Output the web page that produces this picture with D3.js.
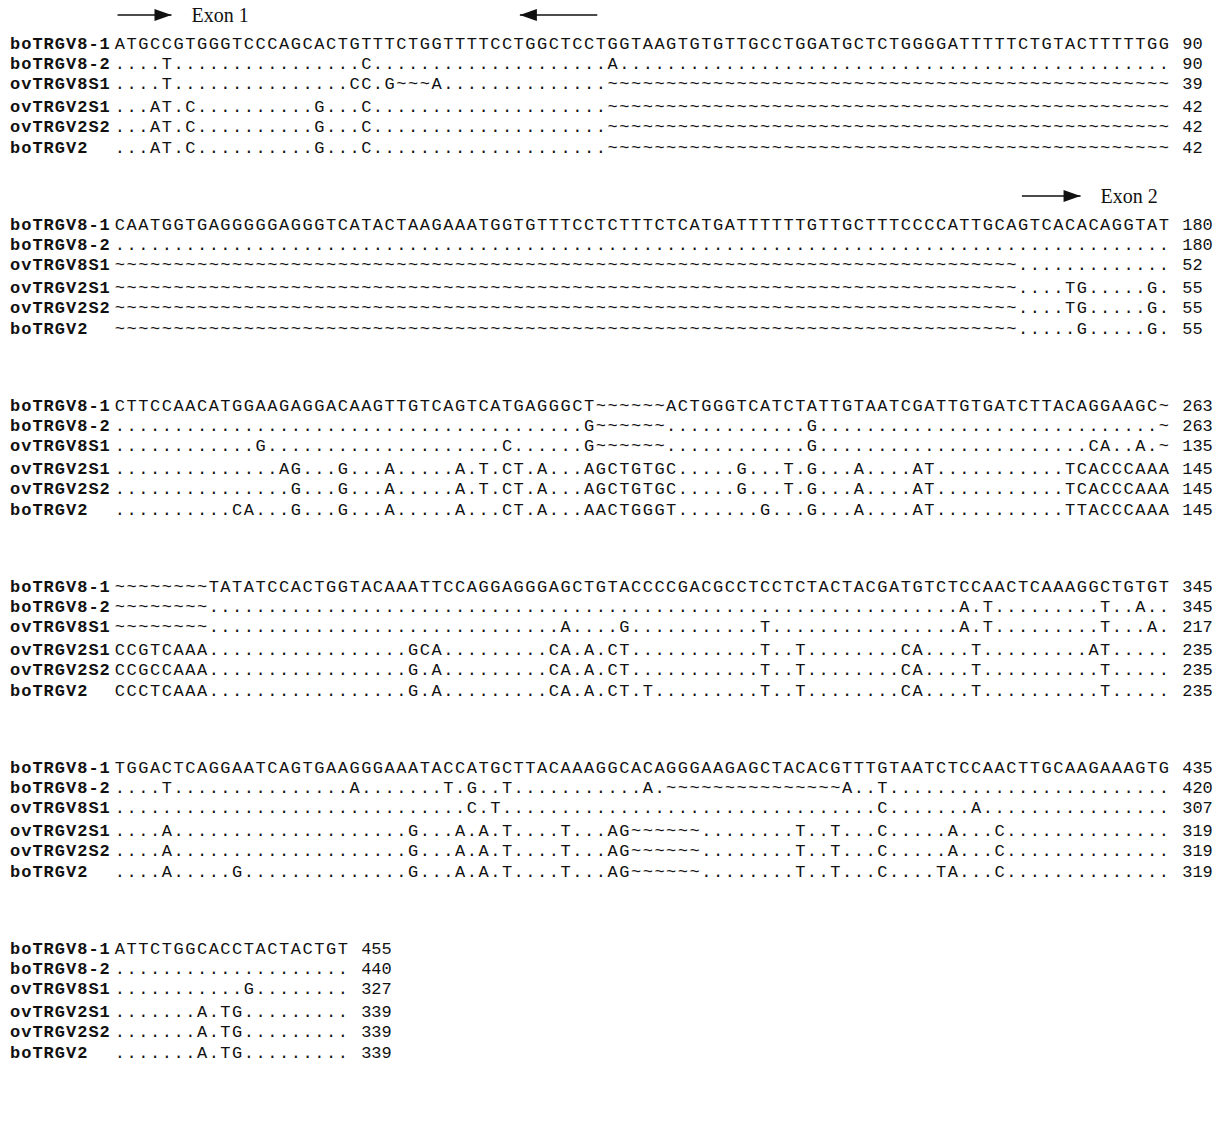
<!DOCTYPE html>
<html lang="en">
<head>
<meta charset="UTF-8">
<title>TRGV alignment</title>
<script src="https://d3js.org/d3.v7.min.js"></script>
<style>
    body{ margin: 0; background: #fff; }
    .seq{ font: 17px "Liberation Mono", "DejaVu Sans Mono", monospace; fill: #111; }
    .name{ font: bold 17px "Liberation Mono", "DejaVu Sans Mono", monospace; fill: #111; letter-spacing: 1px; }
    .exon{ font: 20px "Liberation Serif", "DejaVu Serif", serif; fill: #111; }
</style>
</head>
<body>
<div id="chart"></div>
<script>
    // rows are written in groups of ten columns, the spaces are dropped
    const names = ['boTRGV8-1', 'boTRGV8-2', 'ovTRGV8S1', 'ovTRGV2S1', 'ovTRGV2S2', 'boTRGV2']

    const block1 = [
        'ATGCCGTGGG TCCCAGCACT GTTTCTGGTT TTCCTGGCTC CTGGTAAGTG TGTTGCCTGG ATGCTCTGGG GATTTTTCTG TACTTTTTGG',
        '....T..... .......... .C........ .......... ..A....... .......... .......... .......... ..........',
        '....T..... .......... CC.G~~~A.. .......... ..~~~~~~~~ ~~~~~~~~~~ ~~~~~~~~~~ ~~~~~~~~~~ ~~~~~~~~~~',
        '...AT.C... .......G.. .C........ .......... ..~~~~~~~~ ~~~~~~~~~~ ~~~~~~~~~~ ~~~~~~~~~~ ~~~~~~~~~~',
        '...AT.C... .......G.. .C........ .......... ..~~~~~~~~ ~~~~~~~~~~ ~~~~~~~~~~ ~~~~~~~~~~ ~~~~~~~~~~',
        '...AT.C... .......G.. .C........ .......... ..~~~~~~~~ ~~~~~~~~~~ ~~~~~~~~~~ ~~~~~~~~~~ ~~~~~~~~~~'
    ]
    const block2 = [
        'CAATGGTGAG GGGGAGGGTC ATACTAAGAA ATGGTGTTTC CTCTTTCTCA TGATTTTTTG TTGCTTTCCC CATTGCAGTC ACACAGGTAT',
        '.......... .......... .......... .......... .......... .......... .......... .......... ..........',
        '~~~~~~~~~~ ~~~~~~~~~~ ~~~~~~~~~~ ~~~~~~~~~~ ~~~~~~~~~~ ~~~~~~~~~~ ~~~~~~~~~~ ~~~~~~~... ..........',
        '~~~~~~~~~~ ~~~~~~~~~~ ~~~~~~~~~~ ~~~~~~~~~~ ~~~~~~~~~~ ~~~~~~~~~~ ~~~~~~~~~~ ~~~~~~~... .TG.....G.',
        '~~~~~~~~~~ ~~~~~~~~~~ ~~~~~~~~~~ ~~~~~~~~~~ ~~~~~~~~~~ ~~~~~~~~~~ ~~~~~~~~~~ ~~~~~~~... .TG.....G.',
        '~~~~~~~~~~ ~~~~~~~~~~ ~~~~~~~~~~ ~~~~~~~~~~ ~~~~~~~~~~ ~~~~~~~~~~ ~~~~~~~~~~ ~~~~~~~... ..G.....G.'
    ]
    const block3 = [
        'CTTCCAACAT GGAAGAGGAC AAGTTGTCAG TCATGAGGGC T~~~~~~ACT GGGTCATCTA TTGTAATCGA TTGTGATCTT ACAGGAAGC~',
        '.......... .......... .......... .......... G~~~~~~... .........G .......... .......... .........~',
        '.......... ..G....... .......... ...C...... G~~~~~~... .........G .......... .......... ...CA..A.~',
        '.......... ....AG...G ...A.....A .T.CT.A... AGCTGTGC.. ...G...T.G ...A....AT .......... .TCACCCAAA',
        '.......... .....G...G ...A.....A .T.CT.A... AGCTGTGC.. ...G...T.G ...A....AT .......... .TCACCCAAA',
        '.......... CA...G...G ...A.....A ...CT.A... AACTGGGT.. .....G...G ...A....AT .......... .TTACCCAAA'
    ]
    const block4 = [
        '~~~~~~~~TA TATCCACTGG TACAAATTCC AGGAGGGAGC TGTACCCCGA CGCCTCCTCT ACTACGATGT CTCCAACTCA AAGGCTGTGT',
        '~~~~~~~~.. .......... .......... .......... .......... .......... .......... ..A.T..... ....T..A..',
        '~~~~~~~~.. .......... .......... ........A. ...G...... .....T.... .......... ..A.T..... ....T...A.',
        'CCGTCAAA.. .......... .....GCA.. .......CA. A.CT...... .....T..T. .......CA. ...T...... ...AT.....',
        'CCGCCAAA.. .......... .....G.A.. .......CA. A.CT...... .....T..T. .......CA. ...T...... ....T.....',
        'CCCTCAAA.. .......... .....G.A.. .......CA. A.CT.T.... .....T..T. .......CA. ...T...... ....T.....'
    ]
    const block5 = [
        'TGGACTCAGG AATCAGTGAA GGGAAATACC ATGCTTACAA AGGCACAGGG AAGAGCTACA CGTTTGTAAT CTCCAACTTG CAAGAAAGTG',
        '....T..... .......... A.......T. G..T...... .....A.~~~ ~~~~~~~~~~ ~~A..T.... .......... ..........',
        '.......... .......... .......... C.T....... .......... .......... .....C.... ...A...... ..........',
        '....A..... .......... .....G...A .A.T....T. ..AG~~~~~~ ........T. .T...C.... .A...C.... ..........',
        '....A..... .......... .....G...A .A.T....T. ..AG~~~~~~ ........T. .T...C.... .A...C.... ..........',
        '....A..... G......... .....G...A .A.T....T. ..AG~~~~~~ ........T. .T...C.... TA...C.... ..........'
    ]
    const block6 = [
        'ATTCTGGCAC CTACTACTGT',
        '.......... ..........',
        '.......... .G........',
        '.......A.T G.........',
        '.......A.T G.........',
        '.......A.T G.........'
    ]
    const blocks = [block1, block2, block3, block4, block5, block6]
        .map(rows => rows.map(r => r.replace(/ /g, '')))

    const ends = [
        [90, 90, 39, 42, 42, 42],
        [180, 180, 52, 55, 55, 55],
        [263, 263, 135, 145, 145, 145],
        [345, 345, 217, 235, 235, 235],
        [435, 420, 307, 319, 319, 319],
        [455, 440, 327, 339, 339, 339]
    ]

    // exon marks: [block, from column, to column, direction, label]
    const exons = [
        [0, 0.3, 4.9, 'right', 'Exon 1'],
        [0, 34.6, 41.2, 'left', ''],
        [1, 77.4, 82.4, 'right', 'Exon 2']
    ]

    const W = 1226, H = 1124
    const svg = d3.select('#chart').append('svg')
        .attr('width', W)
        .attr('height', H)

    const cw = 11.73
    const col = d3.scaleLinear().domain([0, 91]).range([114, 114 + 91 * cw])
    const blockY = d3.scaleLinear().domain([0, 5]).range([48.5, 48.5 + 5 * 181])
    const rowY = d3.scaleLinear().domain([0, 5]).range([0, 104])
    const slot = r => r < 3 ? r * 0.97 : r * 0.97 + 0.15

    blocks.forEach((rows, b) => {
        const g = svg.append('g').attr('transform', `translate(0, ${blockY(b)})`)

        g.selectAll('text.name')
            .data(names)
            .enter()
            .append('text')
            .attr('class', 'name')
            .attr('x', 10)
            .attr('y', (d, i) => rowY(slot(i)))
            .text(d => d)

        g.selectAll('text.seq')
            .data(rows)
            .enter()
            .append('text')
            .attr('class', 'seq')
            .attr('x', d => d.split('').map((c, i) => (col(i) + 0.8).toFixed(2)).join(' '))
            .attr('y', (d, i) => rowY(slot(i)))
            .text(d => d)

        g.selectAll('text.end')
            .data(ends[b])
            .enter()
            .append('text')
            .attr('class', 'seq end')
            .attr('x', (d, i) => col(rows[i].length + 1) + 0.8)
            .attr('y', (d, i) => rowY(slot(i)))
            .text(d => d)
    })

    const arrowY = b => blockY(b) - 33.5
    exons.forEach(([b, c0, c1, dir, label]) => {
        const x0 = col(c0), x1 = col(c1), y = arrowY(b)
        svg.append('line')
            .attr('x1', x0).attr('x2', x1)
            .attr('y1', y).attr('y2', y)
            .attr('stroke', '#111')
            .attr('stroke-width', 1.6)
        const tip = dir == 'right' ? x1 : x0
        const back = dir == 'right' ? tip - 17 : tip + 17
        svg.append('path')
            .attr('d', `M${tip},${y} L${back},${y - 6} L${back},${y + 6} Z`)
            .attr('fill', '#111')
        if (label) {
            svg.append('text')
                .attr('class', 'exon')
                .attr('x', x1 + 20)
                .attr('y', y + 7)
                .text(label)
        }
    })
</script>
</body>
</html>
